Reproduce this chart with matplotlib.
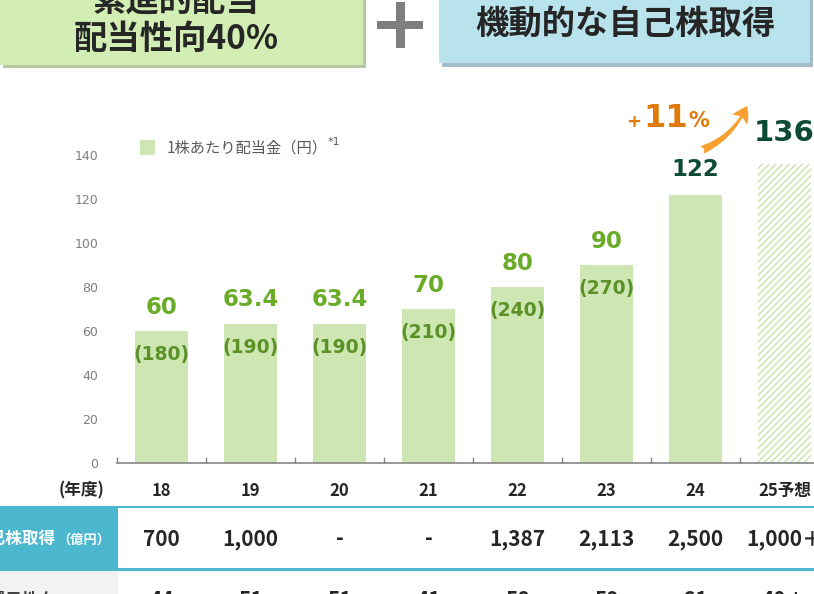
import matplotlib.pyplot as plt
import numpy as np
from matplotlib.patches import Rectangle, FancyArrowPatch
from matplotlib.transforms import blended_transform_factory

# Dados do gráfico
years = ['18', '19', '20', '21', '22', '23', '24', '25予想']
dividend = [60, 63.4, 63.4, 70, 80, 90, 122, 136]
dividend_labels = ['60', '63.4', '63.4', '70', '80', '90', '122', '136']
pre_split = [180, 190, 190, 210, 240, 270]
forecast = [False, False, False, False, False, False, False, True]
buyback = ['700', '1,000', '-', '-', '1,387', '2,113', '2,500', '1,000＋']
payout = ['44', '51', '51', '41', '58', '59', '61', '40＋']
growth_label = '11'

W, H = 814, 594

BAR_GREEN = '#cde6b2'
LABEL_GREEN = '#6aab28'
PAREN_GREEN = '#5b9228'
DARK_GREEN = '#0d4b34'
ORANGE = '#e07a0a'
TEAL = '#4bb8d0'
TEXT_DARK = '#262626'


def fx(x):
    return x / W


def fy(y):
    return 1 - y / H


def rect_px(fig, x0, y0, x1, y1, color, z=0):
    """Retângulo em pixels da figura (origem no canto superior esquerdo)."""
    r = Rectangle((fx(x0), fy(y1)), (x1 - x0) / W, (y1 - y0) / H,
                  transform=fig.transFigure, facecolor=color, lw=0, zorder=z)
    fig.add_artist(r)


def draw_header(fig):
    # caixa verde com sombra
    rect_px(fig, 3, -10, 366, 68, '#b5c9a3')
    rect_px(fig, -10, -10, 363, 65, '#d3eeb5')
    # caixa azul com sombra
    rect_px(fig, 442, -10, 813, 67, '#a2bdc7')
    rect_px(fig, 439, -10, 810, 63, '#b8e2ec')
    # sinal de mais
    rect_px(fig, 377, 21, 423, 29, '#7f7f7f')
    rect_px(fig, 395.5, 2, 404.5, 48, '#7f7f7f')

    kw = dict(ha='center', va='center', fontsize=24, fontweight='bold', color=TEXT_DARK)
    fig.text(fx(176), fy(1), '累進的配当', **kw)
    fig.text(fx(176), fy(39), '配当性向40%', **kw)
    fig.text(fx(625), fy(24), '機動的な自己株取得', **kw)


def draw_chart(fig):
    ax = fig.add_axes([fx(117), fy(463), 712 / W, 308 / H])
    x = np.arange(len(years))

    solid = [i for i in x if not forecast[i]]
    fut = [i for i in x if forecast[i]]
    bars = ax.bar(solid, [dividend[i] for i in solid], width=0.6, color=BAR_GREEN,
                  label='1株あたり配当金（円）', zorder=2)
    ax.bar(fut, [dividend[i] for i in fut], width=0.6, facecolor='white',
           edgecolor='#c3e0a2', hatch='/////', lw=0, zorder=2)

    ax.set_xlim(-0.5, len(years) - 0.5)
    ax.set_ylim(0, 140)
    for s in ['top', 'right', 'left']:
        ax.spines[s].set_visible(False)
    ax.spines['bottom'].set_color('#868686')
    ax.spines['bottom'].set_linewidth(1.2)

    ax.set_yticks(range(0, 141, 20))
    ax.tick_params(axis='y', length=0, pad=13.5, labelsize=9, labelcolor='#7f7f7f')
    for t in ax.get_yticklabels():
        t.set_family('DejaVu Sans')

    ax.set_xticks(x, years)
    ax.tick_params(axis='x', which='major', length=0, pad=13.5, labelsize=12,
                   labelcolor=TEXT_DARK)
    for t in ax.get_xticklabels():
        t.set_fontweight('bold')
    ax.set_xticks(np.arange(-0.5, len(years), 1), minor=True)
    ax.tick_params(axis='x', which='minor', direction='in', length=4, width=1,
                   color='#868686')

    # rótulos de valor
    for i, v in enumerate(dividend):
        if i < 6:
            color, size, off = LABEL_GREEN, 16.5, 17
        elif i == 6:
            color, size, off = DARK_GREEN, 16.5, 18
        else:
            color, size, off = DARK_GREEN, 21, 22
        ax.annotate(dividend_labels[i], (i, v), xytext=(0, off), textcoords='offset points',
                    ha='center', va='center', fontsize=size, fontweight='bold',
                    color=color, family='DejaVu Sans')
    for i, p in enumerate(pre_split):
        ax.annotate('(%d)' % p, (i, dividend[i]), xytext=(0, -17), textcoords='offset points',
                    ha='center', va='center', fontsize=13.5, fontweight='bold',
                    color=PAREN_GREEN, family='DejaVu Sans')

    # legenda
    ax.legend(handles=[bars], loc='center left', bbox_to_anchor=(fx(140), fy(148)),
              bbox_transform=fig.transFigure, frameon=False, fontsize=11,
              handlelength=1.0, handleheight=1.15, handletextpad=0.75,
              borderpad=0, borderaxespad=0, labelcolor='#595959')
    fig.text(fx(328), fy(142), '*1', ha='left', va='center', fontsize=8,
             color='#595959', family='DejaVu Sans')

    fig.text(fx(104), fy(490), '(年度)', ha='right', va='center', fontsize=12,
             fontweight='bold', color=TEXT_DARK)
    return ax


def draw_growth(fig):
    kw = dict(va='baseline', fontweight='bold', color=ORANGE, family='DejaVu Sans')
    fig.text(fx(634), fy(127), '+', ha='center', fontsize=13, **kw)
    fig.text(fx(666), fy(127), growth_label, ha='center', fontsize=23, **kw)
    fig.text(fx(699), fy(127), '%', ha='center', fontsize=15, **kw)
    arrow = FancyArrowPatch(posA=(fx(702), fy(150)), posB=(fx(747), fy(106)),
                            transform=fig.transFigure,
                            arrowstyle='fancy,head_length=0.55,head_width=0.65,tail_width=0.3',
                            mutation_scale=20, connectionstyle='arc3,rad=0.2',
                            color='#f7a02f', lw=0, shrinkA=0, shrinkB=0)
    fig.add_artist(arrow)


def draw_table(fig, ax):
    rect_px(fig, 0, 507, 118, 569, TEAL)
    rect_px(fig, 0, 571, 118, 610, '#f2f2f2')
    rect_px(fig, 0, 505.5, W, 508, TEAL, 1)
    rect_px(fig, 0, 568, W, 571, TEAL, 1)

    fig.text(fx(56), fy(539), '自己株取得', ha='right', va='center', fontsize=12,
             fontweight='bold', color='white')
    fig.text(fx(57), fy(540), '（億円）', ha='left', va='center', fontsize=9.5,
             fontweight='bold', color='white')
    fig.text(fx(56), fy(601), '総還元性向', ha='right', va='center', fontsize=12,
             fontweight='bold', color='#404040')
    fig.text(fx(57), fy(602), '（%）', ha='left', va='center', fontsize=9.5,
             fontweight='bold', color='#404040')

    trans = blended_transform_factory(ax.transData, fig.transFigure)
    for i, s in enumerate(buyback):
        ax.text(i, fy(539), s, transform=trans, ha='center', va='center', fontsize=15,
                fontweight='bold', color=TEXT_DARK)
    for i, s in enumerate(payout):
        ax.text(i, fy(601), s, transform=trans, ha='center', va='center', fontsize=15,
                fontweight='bold', color=TEXT_DARK)


def main():
    plt.rcParams['font.family'] = ['Noto Sans CJK JP', 'DejaVu Sans']
    plt.rcParams['hatch.linewidth'] = 0.9

    fig = plt.figure(figsize=(W / 100, H / 100), dpi=100)
    draw_header(fig)
    ax = draw_chart(fig)
    draw_growth(fig)
    draw_table(fig, ax)
    fig.savefig('out.png', dpi=100)


if __name__ == '__main__':
    main()
